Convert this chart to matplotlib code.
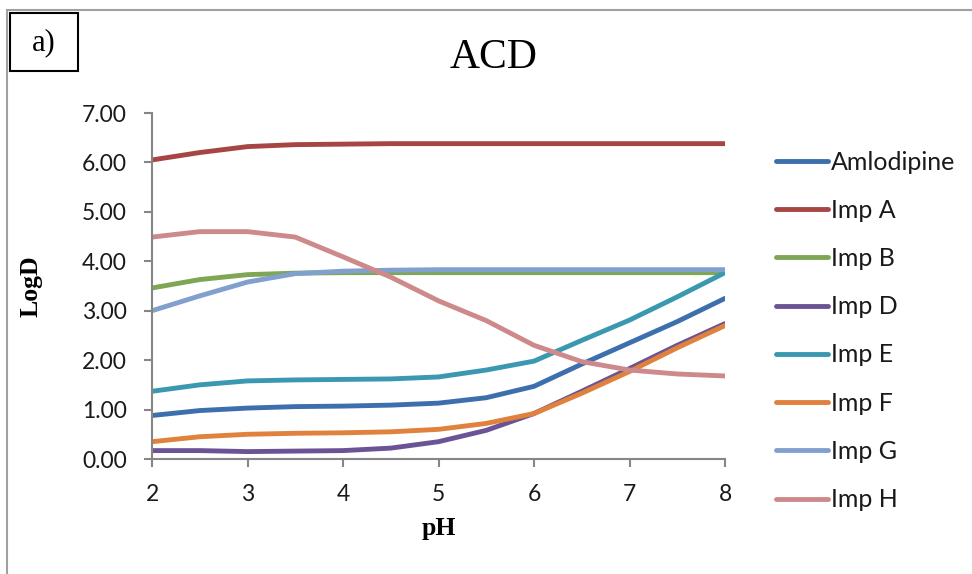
import matplotlib.pyplot as plt
from matplotlib.patches import Rectangle

ph = [2, 2.5, 3, 3.5, 4, 4.5, 5, 5.5, 6, 6.5, 7, 7.5, 8]

amlodipine = [0.88, 0.98, 1.03, 1.06, 1.07, 1.09, 1.13, 1.24, 1.47, 1.92, 2.35, 2.78, 3.25]
imp_a = [6.05, 6.20, 6.32, 6.36, 6.37, 6.38, 6.38, 6.38, 6.38, 6.38, 6.38, 6.38, 6.38]
imp_b = [3.46, 3.63, 3.73, 3.76, 3.77, 3.77, 3.77, 3.77, 3.77, 3.77, 3.77, 3.77, 3.77]
imp_d = [0.17, 0.17, 0.15, 0.16, 0.17, 0.22, 0.35, 0.58, 0.92, 1.37, 1.83, 2.30, 2.74]
imp_e = [1.37, 1.50, 1.58, 1.60, 1.61, 1.62, 1.66, 1.80, 1.98, 2.40, 2.81, 3.28, 3.77]
imp_f = [0.35, 0.45, 0.50, 0.52, 0.53, 0.55, 0.60, 0.72, 0.92, 1.33, 1.77, 2.25, 2.70]
imp_g = [3.00, 3.30, 3.58, 3.75, 3.80, 3.82, 3.83, 3.83, 3.83, 3.83, 3.83, 3.83, 3.83]
imp_h = [4.49, 4.60, 4.60, 4.49, 4.09, 3.68, 3.20, 2.80, 2.30, 1.97, 1.80, 1.72, 1.68]

series = [
    ('Amlodipine', amlodipine, '#3D6FAD'),
    ('Imp A', imp_a, '#A64543'),
    ('Imp B', imp_b, '#7FA654'),
    ('Imp D', imp_d, '#6A5495'),
    ('Imp E', imp_e, '#3A98B1'),
    ('Imp F', imp_f, '#E0823D'),
    ('Imp G', imp_g, '#82A0CE'),
    ('Imp H', imp_h, '#CE898A'),
]

fig = plt.figure(figsize=(9.72, 5.74), dpi=100)
W, H = 972, 574
ax = fig.add_axes([152 / W, 1 - 459 / H, (725 - 152) / W, (459 - 113) / H])

for name, vals, col in series:
    ax.plot(ph, vals, color=col, lw=3.5, label=name, solid_capstyle='round', solid_joinstyle='round')

ax.set_xlim(2, 8)
ax.set_ylim(0, 7)
ax.set_xticks(range(2, 9))
ax.set_yticks(range(0, 8))
ax.set_yticklabels([f'{v:.2f}' for v in range(0, 8)])
for s in ['top', 'right']:
    ax.spines[s].set_visible(False)
for s in ['left', 'bottom']:
    ax.spines[s].set_color('#868686')
    ax.spines[s].set_linewidth(1.5)
ax.tick_params(axis='both', colors='#868686', width=1.5, length=6, direction='out',
               labelcolor='#1a1a1a', labelsize=16.5)
ax.tick_params(axis='y', pad=12)
ax.tick_params(axis='x', pad=12)
for lab in ax.get_xticklabels() + ax.get_yticklabels():
    lab.set_family('Lato')

ax.set_xlabel('pH', family='Liberation Serif', weight='bold', fontsize=18.5, labelpad=9)
fig.text(31 / W, 1 - 286 / H, 'LogD', family='Liberation Serif', weight='bold', fontsize=18.5,
         rotation=90, ha='center', va='center')

fig.text(494 / W, 1 - 58 / H, 'ACD', family='Liberation Serif', fontsize=30, ha='center', va='center')

leg = ax.legend(loc='upper left', bbox_to_anchor=(763 / W, 1 - 138 / H), bbox_transform=fig.transFigure,
                frameon=False, borderpad=0, handlelength=2.1, handletextpad=0.1, labelspacing=1.01,
                prop={'family': 'Lato', 'size': 18})
for t in leg.get_texts():
    t.set_color('#1a1a1a')

# outer chart frame and panel label box
fig.patches.append(Rectangle((7 / W, -0.1), 1.2, 1 - 10 / H + 0.1, transform=fig.transFigure,
                             fill=False, edgecolor='#A0A0A0', lw=1.5))
fig.patches.append(Rectangle((10 / W, 1 - 71 / H), 68 / W, 58 / H, transform=fig.transFigure,
                             fill=False, edgecolor='black', lw=1.5))
fig.text(44 / W, 1 - 43 / H, 'a)', family='Liberation Serif', fontsize=22, ha='center', va='center')

fig.savefig('out.png', dpi=100)
